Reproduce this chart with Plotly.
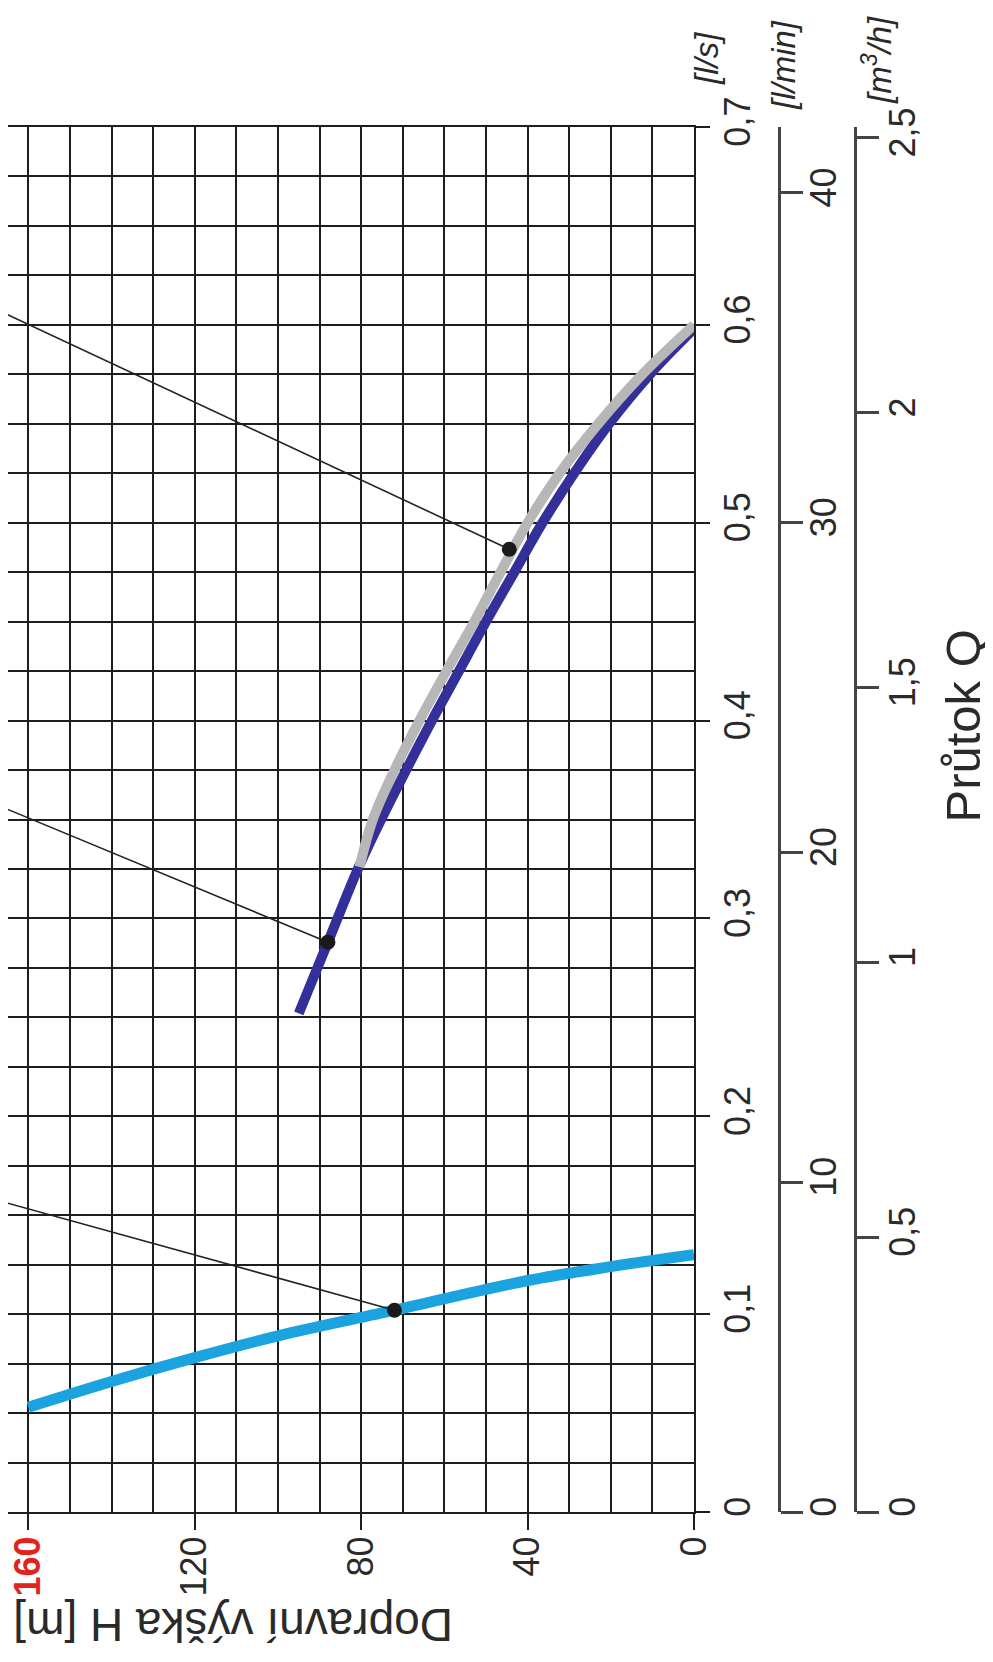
import plotly.graph_objects as go

# pump curves: H = head [m], Q = flow [l/s]
blue_h = [160, 140, 120, 100, 72, 40, 20, 0]
blue_q = [0.053, 0.066, 0.078, 0.089, 0.102, 0.117, 0.124, 0.130]

navy_h = [95, 88, 80.8, 75.2, 69.2, 63, 56.5, 50, 43.2, 36.4, 28.8, 20.4, 10.6, 0]
navy_q = [0.252, 0.288, 0.325, 0.35, 0.375, 0.4, 0.425, 0.45, 0.475, 0.5,
          0.525, 0.55, 0.575, 0.598]

gray_h = [80.4, 77.2, 72, 66, 59.5, 52.8, 46.5, 40, 32.3, 23, 12.4, 0]
gray_q = [0.326, 0.35, 0.375, 0.4, 0.425, 0.45, 0.475, 0.5, 0.525, 0.55, 0.575, 0.6]

# operating points and the leader lines running off to the left
dot_h = [72, 88, 44.4]
dot_q = [0.102, 0.288, 0.4866]
leader_end_h = [170, 170, 170]
leader_end_q = [0.159, 0.3595, 0.610]

h_ticks = [0, 40, 80, 120, 160]
h_labels = ["0", "40", "80", "120", "<b><span style='color:#e2231a'>160</span></b>"]
q_ticks = [0, 0.1, 0.2, 0.3, 0.4, 0.5, 0.6, 0.7]
q_labels = ["0", "0,1", "0,2", "0,3", "0,4", "0,5", "0,6", "0,7"]
lmin_ticks = [0, 10, 20, 30, 40]
m3h_ticks = [0, 0.5, 1, 1.5, 2, 2.5]
m3h_labels = ["0", "0,5", "1", "1,5", "2", "2,5"]

# the page body has an 8px margin, so the figure is 8px smaller each way
W, H = 985, 1654
ML, MR, MT, MB = 0, 40, 119, 150
plot_w = W - ML - MR
x_right = 686  # pixel of H = 0

FONT = "Liberation Sans, Arial, sans-serif"
INK = "#2a2a2a"
GRID = "#1e1e1e"

fig = go.Figure()

fig.add_trace(go.Scatter(x=navy_h, y=navy_q, mode="lines", line_shape="spline",
                         line=dict(color="#33309a", width=10)))
fig.add_trace(go.Scatter(x=gray_h, y=gray_q, mode="lines", line_shape="spline",
                         line=dict(color="#b7b7b7", width=10)))
fig.add_trace(go.Scatter(x=blue_h, y=blue_q, mode="lines", line_shape="spline",
                         line=dict(color="#1ba3e0", width=11)))

for i in range(len(dot_h)):
    fig.add_trace(go.Scatter(x=[dot_h[i], leader_end_h[i]], y=[dot_q[i], leader_end_q[i]],
                             mode="lines", line=dict(color="#222", width=1.6)))

fig.add_trace(go.Scatter(x=dot_h, y=dot_q, mode="markers", cliponaxis=False,
                         marker=dict(color="#1a1a1a", size=15)))

fig.update_layout(
    width=W, height=H, showlegend=False,
    margin=dict(l=ML, r=MR, t=MT, b=MB, autoexpand=False),
    paper_bgcolor="white", plot_bgcolor="white",
    font=dict(family=FONT, size=36, color=INK),
    xaxis=dict(
        domain=[0, x_right / plot_w], range=[164.9, 0],
        tickvals=h_ticks, ticktext=h_labels, tickangle=-90,
        ticks="outside", ticklen=16, tickwidth=2, tickcolor=GRID,
        ticklabelstandoff=-8, ticklabeloverflow="allow",
        showgrid=True, gridcolor=GRID, gridwidth=2,
        minor=dict(dtick=10, showgrid=True, gridcolor=GRID, gridwidth=2),
        showline=True, mirror=True, linecolor=GRID, linewidth=2,
        zeroline=False, automargin=False,
        tickfont=dict(size=36, color=INK),
    ),
    yaxis=dict(
        range=[0, 0.7], side="right", anchor="x",
        tickvals=q_ticks, ticktext=q_labels, tickangle=-90,
        ticks="outside", ticklen=14, tickwidth=2, tickcolor=GRID,
        ticklabelstandoff=-3,
        showgrid=True, gridcolor=GRID, gridwidth=2,
        minor=dict(dtick=0.025, showgrid=True, gridcolor=GRID, gridwidth=2),
        showline=True, linecolor=GRID, linewidth=2,
        zeroline=False, automargin=False,
        tickfont=dict(size=36, color=INK),
    ),
    yaxis2=dict(
        range=[0, 0.7 * 60], overlaying="y", anchor="free", side="right",
        position=771 / plot_w, tickvals=lmin_ticks, tickangle=-90,
        ticks="outside", ticklen=22, tickwidth=3, tickcolor="#444",
        ticklabelstandoff=-10,
        showgrid=False, zeroline=False, showline=True, linecolor="#444", linewidth=3,
        automargin=False, tickfont=dict(size=36, color=INK),
    ),
    yaxis3=dict(
        range=[0, 0.7 * 3.6], overlaying="y", anchor="free", side="right",
        position=847 / plot_w, tickvals=m3h_ticks, ticktext=m3h_labels, tickangle=-90,
        ticks="outside", ticklen=22, tickwidth=3, tickcolor="#444",
        ticklabelstandoff=-7,
        showgrid=False, zeroline=False, showline=True, linecolor="#444", linewidth=3,
        automargin=False, tickfont=dict(size=36, color=INK),
    ),
)

# invisible traces to switch the extra flow axes on
fig.add_trace(go.Scatter(x=[None], y=[None], yaxis="y2", hoverinfo="skip"))
fig.add_trace(go.Scatter(x=[None], y=[None], yaxis="y3", hoverinfo="skip"))

# axis titles and units, turned like the rest of the sheet
fig.add_annotation(text="Dopravní výška H [m]", xref="paper", yref="paper",
                   x=225 / plot_w, y=0, yshift=-113, textangle=180, showarrow=False,
                   xanchor="center", yanchor="middle",
                   font=dict(size=46, color=INK))
fig.add_annotation(text="Průtok Q", xref="paper", yref="y",
                   x=955 / plot_w, y=0.397, textangle=-90, showarrow=False,
                   xanchor="center", yanchor="middle",
                   font=dict(size=49, color=INK))
for txt, px, py in [("[l/s]", 698, 51), ("[l/min]", 775, 57), ("[m<sup>3</sup>/h]", 869, 52)]:
    fig.add_annotation(text="<i>" + txt + "</i>", xref="paper", yref="paper",
                       x=px / plot_w, y=1, yshift=MT - py, textangle=-90,
                       xanchor="center", yanchor="middle",
                       showarrow=False, font=dict(size=33, color=INK))

fig.write_html("out.html")
